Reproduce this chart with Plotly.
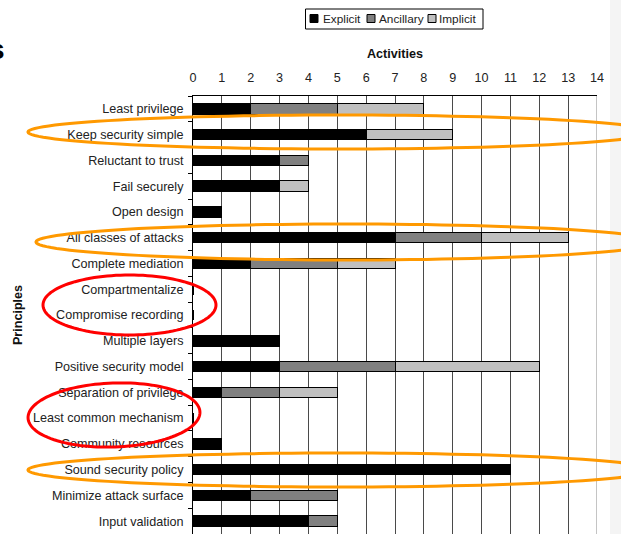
import math
import plotly.graph_objects as go

principles = [
    "Least privilege", "Keep security simple", "Reluctant to trust", "Fail securely",
    "Open design", "All classes of attacks", "Complete mediation", "Compartmentalize",
    "Compromise recording", "Multiple layers", "Positive security model",
    "Separation of privilege", "Least common mechanism", "Community resources",
    "Sound security policy", "Minimize attack surface", "Input validation",
]
explicit = [2, 6, 3, 3, 1, 7, 2, 0, 0, 3, 3, 1, 0, 1, 11, 2, 4]
ancillary = [3, 0, 1, 0, 0, 3, 3, 0, 0, 0, 4, 2, 0, 0, 0, 3, 1]
implicit = [3, 3, 0, 1, 0, 3, 2, 0, 0, 0, 5, 2, 0, 0, 0, 0, 0]
x_ticks = list(range(0, 15))

series = [("Explicit", explicit, "#000000"),
          ("Ancillary", ancillary, "#808080"),
          ("Implicit", implicit, "#C0C0C0")]

W, H = 621, 534
L, R, T, B = 193, 597, 96, 534


def px(x):
    return (x - L) / (R - L)


def py(y):
    return (B - y) / (B - T)


def ellipse_path(cx, cy, a, b, ang=0.0, n=120):
    pts = []
    c, s = math.cos(math.radians(ang)), math.sin(math.radians(ang))
    for i in range(n + 1):
        t = 2 * math.pi * i / n
        ex, ey = a * math.cos(t), b * math.sin(t)
        X = cx + ex * c - ey * s
        Y = cy + ex * s + ey * c
        pts.append((px(X), py(Y)))
    return "M " + " L ".join(f"{u:.5f},{v:.5f}" for u, v in pts) + " Z"


fig = go.Figure()
for name, vals, col in series:
    fig.add_trace(go.Bar(
        y=principles, x=vals, name=name, orientation="h",
        marker=dict(color=col, line=dict(color="#000000", width=1)),
        showlegend=False,
    ))

font = "Liberation Sans, Arial, sans-serif"
fig.update_layout(
    width=W, height=H,
    margin=dict(l=L, r=W - R, t=T, b=0),
    barmode="stack", bargap=0.59,
    paper_bgcolor="white", plot_bgcolor="white",
    font=dict(family=font, size=12.6, color="#222222"),
    xaxis=dict(
        side="top", range=[0, 14], tickvals=x_ticks, ticktext=[str(v) for v in x_ticks],
        showgrid=True, gridcolor="#4a4a4a", gridwidth=1, zeroline=False,
        showline=True, linecolor="#000000", linewidth=1, ticks="",
        ticklabelstandoff=8,
        title=dict(text="<b>Activities</b>", standoff=9, font=dict(size=12.6, color="#111")),
        fixedrange=True,
    ),
    yaxis=dict(
        categoryorder="array", categoryarray=principles, autorange="reversed",
        showgrid=False, zeroline=False, showline=True, linecolor="#000000", linewidth=1,
        ticks="outside", ticklen=4, tickcolor="#000000", tickson="boundaries",
        ticklabelstandoff=6,
        title=dict(text="<b>Principles</b>", standoff=7, font=dict(size=12.6, color="#111")),
    ),
)

shapes = []
# light slide background strip at right edge
shapes.append(dict(type="rect", xref="paper", yref="paper", x0=px(610), x1=px(625),
                   y0=py(-5), y1=py(540), fillcolor="#f4f4f4", line=dict(width=0), layer="below"))
# lighter right-most grid line as in the reference
shapes.append(dict(type="line", xref="x", yref="paper", x0=14, x1=14, y0=0, y1=1,
                   line=dict(color="#c4c4c4", width=2)))
# manual legend
shapes.append(dict(type="rect", xref="paper", yref="paper", x0=px(305.5), x1=px(483),
                   y0=py(29), y1=py(9), line=dict(color="#000000", width=1), fillcolor="white"))
leg_pos = [(310, 321.5), (367, 377.5), (428, 437.5)]
annotations = []
for (sx, tx), (name, vals, col) in zip(leg_pos, series):
    shapes.append(dict(type="rect", xref="paper", yref="paper", x0=px(sx), x1=px(sx + 8),
                       y0=py(22.5), y1=py(14.5), fillcolor=col, line=dict(color="#000000", width=1)))
    annotations.append(dict(xref="paper", yref="paper", x=px(tx), y=py(19), text=name,
                            showarrow=False, xanchor="left", yanchor="middle",
                            font=dict(size=11.8, color="#222222"), borderpad=0))

# annotation ellipses
orange = "#FF9900"
red = "#FF0000"
for cx, cy, a, b in [(340, 132, 312, 17), (346, 242, 310, 18), (340, 470, 312, 17)]:
    shapes.append(dict(type="path", xref="paper", yref="paper", path=ellipse_path(cx, cy, a, b),
                       line=dict(color=orange, width=3)))
for cx, cy, a, b, ang in [(129.5, 305, 86.5, 30, 0), (114, 415, 86, 32, -2)]:
    shapes.append(dict(type="path", xref="paper", yref="paper", path=ellipse_path(cx, cy, a, b, ang),
                       line=dict(color=red, width=3)))

# cropped slide title fragment
annotations.append(dict(xref="paper", yref="paper", x=px(6), y=py(50), text="<b>s</b>",
                        showarrow=False, xanchor="right", yanchor="middle",
                        font=dict(size=28, color="#000000"), borderpad=0))

fig.update_layout(shapes=shapes, annotations=annotations)
fig.write_html("out.html")
